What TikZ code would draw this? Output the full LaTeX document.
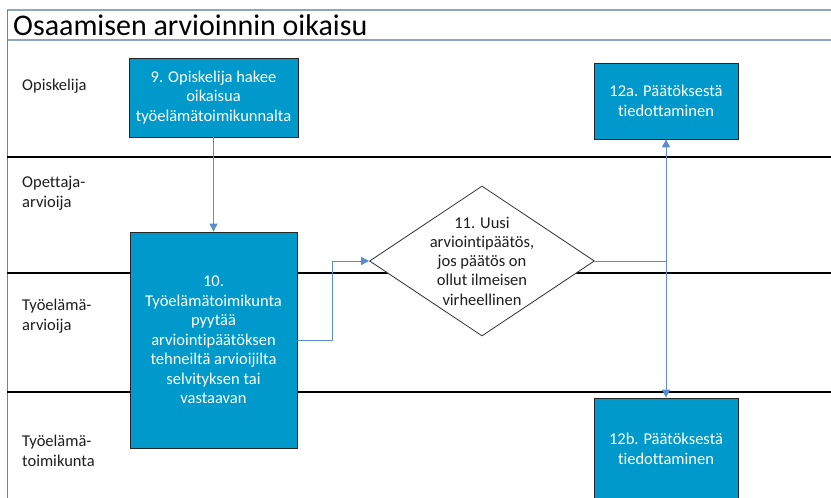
\documentclass[tikz,border=0pt]{standalone}
\usepackage{fontspec}
\setmainfont[Ligatures=NoCommon]{Carlito}
\usetikzlibrary{shapes.geometric,arrows.meta}
\definecolor{boxblue}{RGB}{0,153,204}
\definecolor{arrowblue}{RGB}{91,141,206}
\definecolor{framegray}{RGB}{143,165,190}
\definecolor{textgray}{RGB}{30,30,30}
\tikzset{
  stepbox/.style={draw=black!85, line width=0.8pt, fill=boxblue, text=white, align=center,
    inner sep=0pt, minimum width=#1, font=\fontsize{16.5}{19.5}\selectfont},
  lanelabel/.style={anchor=west, align=left, text=textgray, inner sep=0pt,
    font=\fontsize{16.5}{20}\selectfont},
  flow/.style={draw=arrowblue, line width=1pt},
  flowarrow/.style={flow, -{Triangle[length=8pt,width=8pt]}},
}
\begin{document}
\begin{tikzpicture}[x=1pt,y=-1pt]
\useasboundingbox (0,0) rectangle (831,498);
\fill[white] (0,0) rectangle (831,498);
% frame
\draw[framegray, line width=1.2pt] (7,10) -- (831,10);
\draw[framegray, line width=1.2pt] (7,40) -- (831,40);
\draw[gray, line width=1pt] (7,10) -- (7,498);
\node[anchor=west, inner sep=0pt, font=\fontsize{30}{34}\selectfont, text=black] (title) at (13,25) {Osaamisen arvioinnin oikaisu};
% lane separators
\draw[black, line width=2.4pt] (7,157) -- (831,157);
\draw[black, line width=2.4pt] (7,273) -- (831,273);
\draw[black, line width=1.4pt] (7,392) -- (831,392);
% lane labels
\node[lanelabel] (l1) at (22,86) {Opiskelija};
\node[lanelabel] (l2) at (22,193) {Opettaja-\\arvioija};
\node[lanelabel] (l3) at (22,316) {Työelämä-\\arvioija};
\node[lanelabel] (l4) at (22,451) {Työelämä-\\toimikunta};
% boxes
\node[stepbox=169pt, minimum height=79pt] (b9) at (213.5,97.5) {9. Opiskelija hakee\\oikaisua\\työelämätoimikunnalta};
\node[stepbox=144pt, minimum height=76pt] (b12a) at (666,101) {12a. Päätöksestä\\tiedottaminen};
\node[stepbox=167pt, minimum height=216pt] (b10) at (213.5,340) {10.\\Työelämätoimikunta\\pyytää\\arviointipäätöksen\\tehneiltä arvioijilta\\selvityksen tai\\vastaavan};
\node[stepbox=144pt, minimum height=102pt] (b12b) at (666,449) {12b. Päätöksestä\\tiedottaminen};
% decision
\node[diamond, draw=black!80, line width=0.8pt, fill=white, minimum width=225pt, minimum height=150pt, inner sep=0pt] (d) at (482,261) {};
\node[align=center, inner sep=0pt, text=textgray, font=\fontsize{16.5}{19.3}\selectfont] (dt) at (d.center) {11. Uusi\\arviointipäätös,\\jos päätös on\\ollut ilmeisen\\virheellinen};
% connectors
\coordinate (j1) at (332,340);
\coordinate (j2) at (332,261);
\coordinate (j3) at (666,261);
\draw[flowarrow] (b9.south) -- (b10.north);
\draw[flowarrow] (b10.east |- j1) -- (j1) -- (j2) -- (d.west);
\draw[flow] (d.east) -- (j3);
\draw[flowarrow] (j3) -- (b12a.south);
\draw[flowarrow] (j3) -- (b12b.north);
\end{tikzpicture}
\end{document}
